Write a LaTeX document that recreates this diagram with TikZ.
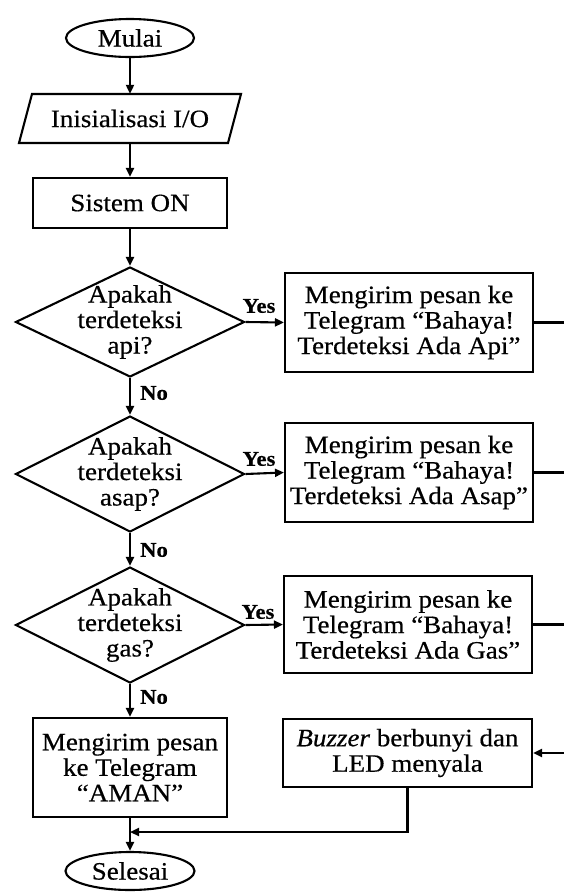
\documentclass[tikz,border=0pt]{standalone}
\usepackage{fontspec}
\setmainfont{Liberation Serif}[FakeStretch=1.08,FakeBold=0.5]
\usetikzlibrary{arrows.meta,shapes.geometric}
\tikzset{
  ln/.style={line width=2.1pt},
  conn/.style={ln,-{Triangle[length=9pt,width=8pt]}},
  procbox/.style={draw,ln,rectangle,align=center,inner sep=0pt},
  term/.style={draw,ln,ellipse,inner sep=0pt},
  decis/.style={draw,ln,diamond,inner sep=0pt},
  lbl/.style={font=\fontsize{21}{22}\selectfont\bfseries,inner sep=0pt},
}
\begin{document}
\begin{tikzpicture}[x=1pt,y=-1pt,font=\fontsize{25}{25.5}\selectfont]
\useasboundingbox (0,0) rectangle (563,895);
% main column
\node[term,minimum width=128pt,minimum height=38pt] (mulai) at (130,38) {Mulai};
\node[inner sep=0pt,minimum width=209pt,minimum height=49pt] (io) at (130,118.5) {Inisialisasi I/O};
\draw[ln,line join=miter] (32,94) -- (241,94) -- (228,143) -- (19,143) -- cycle;
\node[procbox,minimum width=194pt,minimum height=50pt] (on) at (130,203) {Sistem ON};
\node[decis,minimum width=229pt,minimum height=110pt] (d1) at (130,322) {};
\node[align=center,inner sep=0pt] (d1t) at (130,322) {Apakah\\terdeteksi\\api?};
\node[decis,minimum width=229pt,minimum height=116pt] (d2) at (130,474) {};
\node[align=center,inner sep=0pt] (d2t) at (130,474) {Apakah\\terdeteksi\\asap?};
\node[decis,minimum width=229pt,minimum height=116pt] (d3) at (130,625) {};
\node[align=center,inner sep=0pt] (d3t) at (130,625) {Apakah\\terdeteksi\\gas?};
\node[procbox,minimum width=194pt,minimum height=99pt] (aman) at (130,767.5) {Mengirim pesan\\ke Telegram\\“AMAN”};
\node[term,minimum width=129pt,minimum height=38pt] (selesai) at (130,871) {Selesai};
% right column
\node[procbox,minimum width=248pt,minimum height=99pt] (b1) at (409,322.5) {Mengirim pesan ke\\Telegram “Bahaya!\\Terdeteksi Ada Api”};
\node[procbox,minimum width=248pt,minimum height=99pt] (b2) at (409,472.5) {Mengirim pesan ke\\Telegram “Bahaya!\\Terdeteksi Ada Asap”};
\node[procbox,minimum width=248pt,minimum height=97pt] (b3) at (408,624.5) {Mengirim pesan ke\\Telegram “Bahaya!\\Terdeteksi Ada Gas”};
\node[procbox,minimum width=249pt,minimum height=68pt] (buzz) at (407.5,753) {\textit{Buzzer} berbunyi dan\\LED menyala};
% connectors
\draw[conn] (mulai) -- (io);
\draw[conn] (io) -- (on);
\draw[conn] (on) -- (d1);
\draw[conn] (d1) -- (d2);
\draw[conn] (d2) -- (d3);
\draw[conn] (d3) -- (aman);
\coordinate (j) at (130,832);
\draw[conn] (aman) -- (selesai);
\draw[conn] (buzz.south) |- (j);
\draw[conn] (d1.east) -- (b1.west);
\draw[conn] (d2.east) -- (b2.west);
\draw[conn] (d3.east) -- (b3.west);
\coordinate (rv) at (578,0);
\draw[ln] (b1.east) -- (b1.east -| rv);
\draw[ln] (b2.east) -- (b2.east -| rv);
\draw[ln] (b3.east) -- (b3.east -| rv);
\draw[conn] (b1.east -| rv) |- (buzz.east);
% labels
\node[lbl] (y1) at (259,306) {Yes};
\node[lbl] (y2) at (259,459) {Yes};
\node[lbl] (y3) at (258,612) {Yes};
\node[lbl] (n1) at (154,393) {No};
\node[lbl] (n2) at (154,550) {No};
\node[lbl] (n3) at (154,697) {No};
\end{tikzpicture}
\end{document}
